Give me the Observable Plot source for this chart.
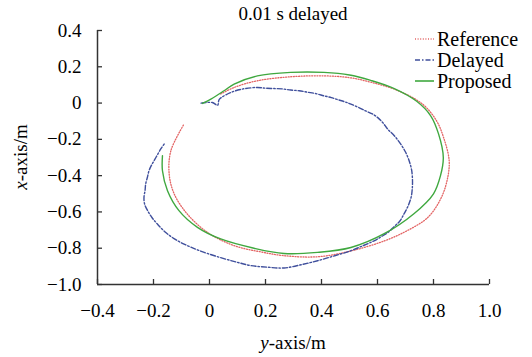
<!DOCTYPE html>
<html>
<head>
<meta charset="utf-8">
<script src="https://cdn.jsdelivr.net/npm/d3@7"></script>
<script src="https://cdn.jsdelivr.net/npm/@observablehq/plot@0.6"></script>
<style>
  html, body { margin: 0; padding: 0; background: #fff; }
  body, body *, svg text { font-family: 'Liberation Serif', 'Times New Roman', Tinos, monospace !important; }
</style>
</head>
<body>
<div id="wrap"></div>
<script>
// ---- data (x = y-axis/m, y = x-axis/m) ----
const seriesNames = ["Reference", "Delayed", "Proposed"];
const seriesColors = ["#e36464", "#3f4f9c", "#3fa83f"];
const xDomain = [-0.4, 1.0];
const yDomain = [-1.0, 0.4];
const xTicks = [-0.4, -0.2, 0, 0.2, 0.4, 0.6, 0.8, 1.0];
const yTicks = [0.4, 0.2, 0, -0.2, -0.4, -0.6, -0.8, -1.0];

const referenceXY = [
  [0.04,0.05],[0.088,0.086],[0.171,0.123],[0.29,0.145],[0.409,0.15],[0.50,0.14],
  [0.576,0.115],[0.671,0.07],[0.761,-0.006],[0.811,-0.098],[0.836,-0.19],[0.856,-0.318],
  [0.848,-0.43],[0.825,-0.53],[0.78,-0.63],[0.71,-0.70],[0.624,-0.76],[0.505,-0.815],
  [0.386,-0.847],[0.266,-0.841],[0.183,-0.82],[0.088,-0.786],[-0.007,-0.713],[-0.079,-0.612],
  [-0.126,-0.501],[-0.144,-0.391],[-0.138,-0.263],[-0.091,-0.116]
];
const delayedXY = [
  [-0.03,0.0],[0.01,0.003],[0.029,-0.012],[0.035,0.02],[0.076,0.058],[0.12,0.078],
  [0.171,0.086],[0.2,0.082],[0.23,0.08],[0.26,0.078],[0.29,0.072],[0.32,0.068],[0.35,0.06],
  [0.38,0.052],[0.409,0.04],[0.435,0.03],[0.46,0.018],[0.485,0.006],[0.505,-0.006],
  [0.535,-0.026],[0.56,-0.045],[0.582,-0.06],[0.6,-0.079],[0.62,-0.11],[0.636,-0.143],
  [0.66,-0.18],[0.683,-0.226],[0.7,-0.27],[0.713,-0.318],[0.722,-0.37],[0.725,-0.428],
  [0.724,-0.475],[0.72,-0.52],[0.707,-0.575],[0.695,-0.61],[0.68,-0.65],[0.66,-0.68],
  [0.64,-0.71],[0.615,-0.735],[0.588,-0.759],[0.55,-0.785],[0.505,-0.814],[0.45,-0.84],
  [0.386,-0.869],[0.33,-0.89],[0.266,-0.909],[0.21,-0.905],[0.148,-0.896],[0.1,-0.878],
  [0.04,-0.852],[-0.019,-0.823],[-0.07,-0.792],[-0.114,-0.759],[-0.155,-0.715],
  [-0.186,-0.667],[-0.205,-0.632],[-0.221,-0.593],[-0.232,-0.555],[-0.234,-0.52],
  [-0.23,-0.48],[-0.228,-0.446],[-0.222,-0.41],[-0.216,-0.373],[-0.208,-0.345],
  [-0.198,-0.318],[-0.186,-0.285],[-0.174,-0.253],[-0.162,-0.226]
];
const proposedXY = [
  [-0.025,-0.002],[0.005,0.022],[0.052,0.068],[0.088,0.105],[0.171,0.15],[0.29,0.169],
  [0.409,0.169],[0.50,0.155],[0.576,0.125],[0.66,0.08],[0.74,0.01],[0.79,-0.07],
  [0.818,-0.17],[0.835,-0.30],[0.825,-0.40],[0.80,-0.50],[0.73,-0.61],[0.624,-0.72],
  [0.505,-0.796],[0.386,-0.823],[0.266,-0.829],[0.159,-0.80],[0.04,-0.749],[-0.043,-0.685],
  [-0.109,-0.593],[-0.15,-0.483],[-0.168,-0.373],[-0.168,-0.29]
];

const FONT = "'Liberation Serif', 'Times New Roman', Tinos, monospace";
const fmt = d => d === 0 ? "0" : d3.format(".1f")(d);
const axisStroke = "#333";

const chart = Plot.plot({
  width: 532,
  height: 357,
  marginLeft: 97,
  marginRight: 43,
  marginTop: 30,
  marginBottom: 73,
  x: { domain: xDomain },
  y: { domain: yDomain },
  style: { fontFamily: FONT, fontSize: "19px", background: "#fff", color: "#000" },
  marks: [
    Plot.axisX({ ticks: xTicks, tickFormat: fmt, tickSize: -5, tickPadding: 24, label: null, stroke: axisStroke, strokeWidth: 1.3 }),
    Plot.axisY({ ticks: yTicks, tickFormat: fmt, tickSize: -5, tickPadding: 21, label: null, stroke: axisStroke, strokeWidth: 1.3 }),
    Plot.ruleX([xDomain[0]], { stroke: axisStroke, strokeWidth: 1.5 }),
    Plot.ruleY([yDomain[0]], { stroke: axisStroke, strokeWidth: 1.5 }),
    Plot.line(referenceXY, { x: d => d[0], y: d => d[1], stroke: seriesColors[0], strokeWidth: 1.3, strokeDasharray: "1 1.6", curve: "catmull-rom" }),
    Plot.line(delayedXY, { x: d => d[0], y: d => d[1], stroke: seriesColors[1], strokeWidth: 1.4, strokeDasharray: "5 2 1.5 2", curve: "catmull-rom" }),
    Plot.line(proposedXY, { x: d => d[0], y: d => d[1], stroke: seriesColors[2], strokeWidth: 1.4, curve: "catmull-rom" })
  ]
});

const wrap = document.getElementById("wrap");
wrap.style.position = "relative";
wrap.style.width = "532px";
wrap.style.height = "357px";
wrap.style.color = "#000";
wrap.appendChild(chart);
chart.style.position = "absolute";
chart.style.left = "0px";
chart.style.top = "0px";
chart.querySelectorAll("text").forEach(t => { t.style.setProperty("font-family", FONT, "important"); });

function ov(html, css) {
  const d = document.createElement("div");
  d.innerHTML = html;
  d.style.position = "absolute";
  d.style.whiteSpace = "nowrap";
  d.style.lineHeight = "1";
  Object.assign(d.style, css);
  d.style.setProperty("font-family", FONT, "important");
  wrap.appendChild(d);
  return d;
}
// title
ov("0.01 s delayed", { left: "293px", top: "4px", fontSize: "19px", transform: "translateX(-50%)" });
// x axis label
ov("<i>y</i>-axis/m", { left: "293px", top: "333px", fontSize: "19px", transform: "translateX(-50%)" });
// y axis label
ov("<i>x</i>-axis/m", { left: "20px", top: "157px", fontSize: "19px", transform: "translate(-50%,-50%) rotate(-90deg)" });
// legend
const dashes = ["1 1.6", "5 2 1.5 2", null];
seriesNames.forEach((name, i) => {
  const line = `<svg width="19" height="6" style="margin-right:3px"><line x1="0" y1="3" x2="19" y2="3" stroke="${seriesColors[i]}" stroke-width="1.6" ${dashes[i] ? `stroke-dasharray="${dashes[i]}"` : ""}/></svg>`;
  ov(line + name, { left: "415px", top: (29 + i * 21) + "px", fontSize: "20px", display: "flex", alignItems: "center" });
});
</script>
</body>
</html>
